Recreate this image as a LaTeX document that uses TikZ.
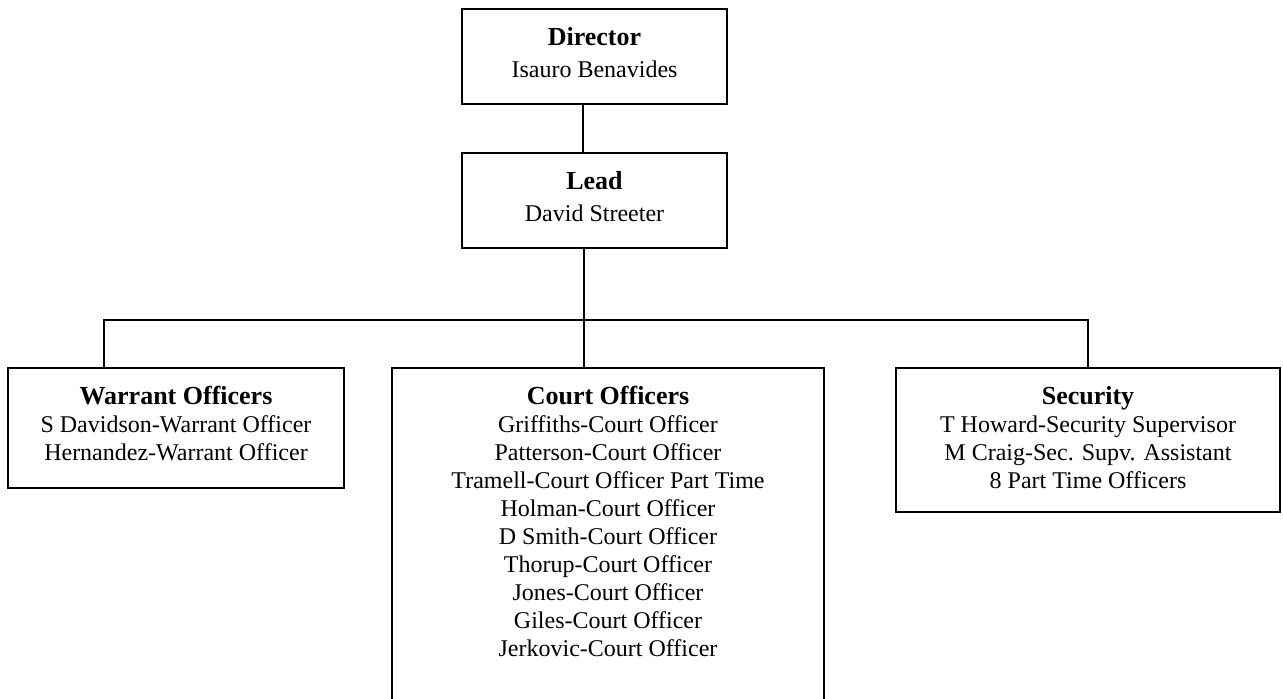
\documentclass[tikz,border=0pt]{standalone}
\usepackage{fontspec}
\setmainfont{Liberation Serif}
\usepackage{tikz}
\usetikzlibrary{positioning}
\tikzset{orgbox/.style={draw, line width=1.2pt, inner sep=0pt, font={\fontsize{12}{14}\selectfont}}}
\newcommand{\boxhead}[1]{{\fontsize{13}{15}\selectfont\bfseries #1\par}}
\newcommand{\boxbody}[3]{\parbox[c][#2][t]{#1}{\centering\vspace*{9pt}#3}}

\begin{document}
\begin{tikzpicture}[x=0.5pt, y=-0.5pt, line width=1.2pt]
\useasboundingbox (0,0) rectangle (1283,698);
\node[orgbox] (dir) at (594.5,56.5) {\boxbody{132.5pt}{47.5pt}{\boxhead{Director}\vspace{2pt}Isauro Benavides}};
\node[orgbox] (lead) at (594.5,200.5) {\boxbody{132.5pt}{47.5pt}{\boxhead{Lead}\vspace{2pt}David Streeter}};
\node[orgbox] (warrant) at (176,428) {\boxbody{168pt}{60pt}{\boxhead{Warrant Officers}S Davidson-Warrant Officer\\Hernandez-Warrant Officer}};
\node[orgbox] (court) at (608,538) {\boxbody{216pt}{170pt}{\boxhead{Court Officers}Griffiths-Court Officer\\Patterson-Court Officer\\Tramell-Court Officer Part Time\\Holman-Court Officer\\D Smith-Court Officer\\Thorup-Court Officer\\Jones-Court Officer\\Giles-Court Officer\\Jerkovic-Court Officer}};
\node[orgbox] (security) at (1088,440) {\boxbody{192pt}{72pt}{\boxhead{Security}T Howard-Security Supervisor\\M Craig-Sec. Supv. Assistant\\8 Part Time Officers}};
\coordinate (bus) at (594,320);
\draw ([xshift=-5.75pt]dir.south) -- ([xshift=-5.75pt]lead.north);
\draw ([xshift=-5.25pt]lead.south) -- ([xshift=-12pt]court.north);
\draw ([xshift=-36pt]warrant.north) |- (bus) -| (security.north);
\end{tikzpicture}
\end{document}
